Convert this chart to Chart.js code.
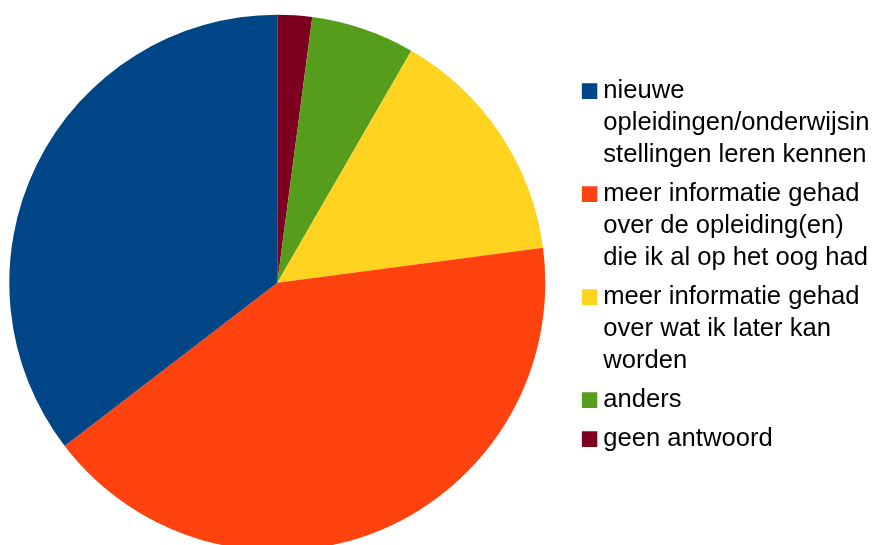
<!DOCTYPE html>
<html>
<head>
<meta charset="utf-8">
<script src="https://cdn.jsdelivr.net/npm/chart.js@4.4.1/dist/chart.umd.min.js"></script>
<style>
  html, body { margin: 0; padding: 0; background: #ffffff; }
  #wrap { width: 877px; height: 545px; position: relative; }
</style>
</head>
<body>
<div id="wrap"><canvas id="c"></canvas></div>
<script>
// Categories in clockwise drawing order (starting at 12 o'clock)
const categories = [
  ['geen antwoord'],
  ['anders'],
  ['meer informatie gehad', 'over wat ik later kan', 'worden'],
  ['meer informatie gehad', 'over de opleiding(en)', 'die ik al op het oog had'],
  ['nieuwe', 'opleidingen/onderwijsin', 'stellingen leren kennen']
];
const values = [1, 3, 7, 20, 17];
const sliceColors = ['#7e0021', '#579d1c', '#ffd320', '#ff420e', '#004586'];

// Keep the pie centred where the reference has it (left of the legend)
const pieCenterPlugin = {
  id: 'pieCenter',
  afterLayout(chart) {
    const a = chart.chartArea;
    a.left = 2 * 277.3 - a.right;
    a.width = a.right - a.left;
  }
};

new Chart(document.getElementById('c'), {
  type: 'pie',
  data: {
    labels: categories,
    datasets: [{
      data: values,
      backgroundColor: sliceColors,
      borderWidth: 0,
      radius: 268,
      clip: false
    }]
  },
  plugins: [pieCenterPlugin],
  options: {
    responsive: true,
    maintainAspectRatio: false,
    animation: false,
    layout: { padding: { left: 0, right: 5.5, top: 71.3, bottom: 50.7 } },
    plugins: {
      tooltip: { enabled: false },
      legend: {
        position: 'right',
        align: 'start',
        maxWidth: 290,
        labels: {
          boxWidth: 2,
          boxHeight: 2,
          padding: 7,
          color: '#000000',
          font: { family: '"Liberation Sans", Arial, sans-serif', size: 25.6, lineHeight: 1.25 },
          generateLabels(chart) {
            const ds = chart.data.datasets[0];
            return chart.data.labels.map((t, i) => ({
              text: t,
              fillStyle: ds.backgroundColor[i],
              strokeStyle: ds.backgroundColor[i],
              lineWidth: 13.6,
              lineJoin: 'miter',
              fontColor: '#000000',
              hidden: false,
              index: i
            })).reverse();
          }
        }
      }
    }
  }
});
</script>
</body>
</html>
